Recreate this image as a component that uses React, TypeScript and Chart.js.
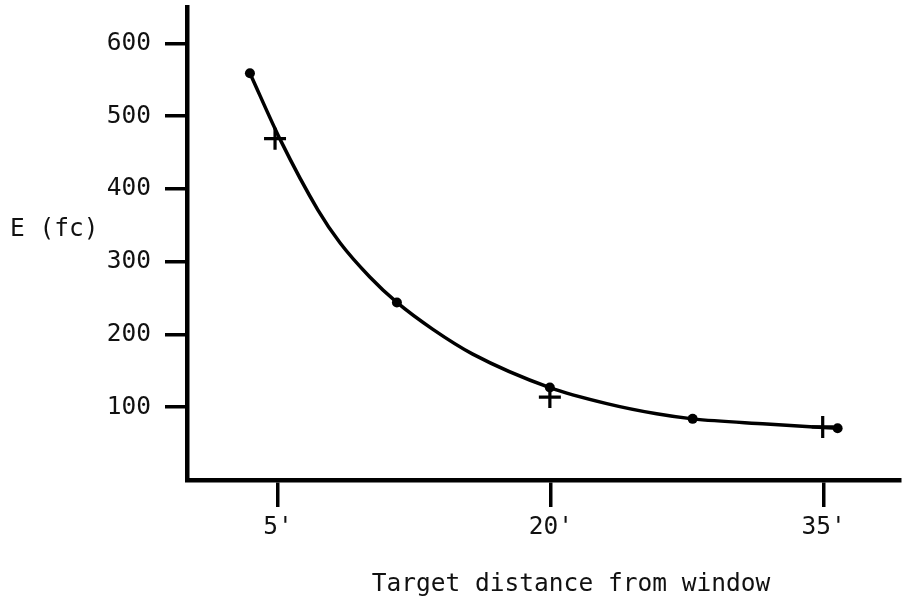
import React, { useEffect, useRef } from "react";
import { Chart, registerables } from "chart.js";

Chart.register(...registerables);

// Fitted curve (distance in ft, illuminance in fc)
const lineX = [3.46, 5.16, 7.2, 8.41, 10.05, 11.54, 13.52, 15.71, 19.95, 23.08, 25.82, 27.8, 31.87, 35.77];
const lineY = [559, 466, 371, 326, 279, 244, 207, 173, 127, 105, 91, 84, 77, 71];
// Dot measurements
const dotX = [3.46, 11.54, 19.95, 27.8, 35.77];
const dotY = [559, 244, 127, 84, 71];
// "+" measurements
const crossX = [4.84, 19.95, 34.95];
const crossY = [469, 114, 73];

const xTickValues = [5, 20, 35];
const xTickLabels = ["5'", "20'", "35'"];
const yTickValues = [100, 200, 300, 400, 500, 600];

const yTitle = "E (fc)";
const xTitle = "Target distance from window";

const FONT = "'DejaVu Sans Mono', monospace";

const titlesPlugin = {
  id: "titles",
  afterDraw(chart: any) {
    const { ctx, chartArea } = chart;
    ctx.save();
    ctx.fillStyle = "#111";
    ctx.font = `24.5px ${FONT}`;
    ctx.textBaseline = "middle";
    ctx.textAlign = "left";
    ctx.fillText(yTitle, chartArea.left - 177, chartArea.top + 223);
    ctx.textAlign = "center";
    ctx.fillText(xTitle, chartArea.left + 384, chartArea.bottom + 105);
    ctx.restore();
  },
};

export default function App() {
  const ref = useRef<HTMLCanvasElement | null>(null);

  useEffect(() => {
    if (!ref.current) return;
    const chart = new Chart(ref.current, {
      type: "scatter",
      data: {
        datasets: [
          {
            data: lineX.map((x, i) => ({ x, y: lineY[i] })),
            showLine: true,
            borderColor: "#000",
            borderWidth: 3.5,
            pointRadius: 0,
            cubicInterpolationMode: "monotone",
          },
          {
            data: dotX.map((x, i) => ({ x, y: dotY[i] })),
            showLine: false,
            pointBackgroundColor: "#000",
            pointBorderColor: "#000",
            pointRadius: 5,
            pointBorderWidth: 0,
          },
          {
            data: crossX.map((x, i) => ({ x, y: crossY[i] })),
            showLine: false,
            pointStyle: "cross",
            pointRadius: 11,
            borderColor: "#000",
            pointBorderColor: "#000",
            pointBorderWidth: 3.2,
          },
        ],
      },
      options: {
        responsive: false,
        animation: false,
        events: [],
        layout: { autoPadding: false, padding: { top: 7, right: 4, left: 0, bottom: 0 } },
        plugins: { legend: { display: false }, tooltip: { enabled: false } },
        scales: {
          x: {
            type: "linear",
            min: 0,
            max: 39.2,
            afterBuildTicks: (scale: any) => {
              scale.ticks = xTickValues.map((v) => ({ value: v }));
            },
            afterFit: (scale: any) => {
              scale.height = 132;
              scale.paddingLeft = 0;
              scale.paddingRight = 0;
            },
            grid: {
              display: true,
              drawOnChartArea: false,
              drawTicks: true,
              tickLength: 27,
              color: "#000",
              tickColor: "#000",
              lineWidth: 3.5,
              tickWidth: 3.5,
            },
            border: { display: true, color: "#000", width: 4.5 },
            ticks: {
              color: "#111",
              font: { family: FONT, size: 24.5 },
              padding: 6,
              maxRotation: 0,
              autoSkip: false,
              callback: (v: any) => {
                const i = xTickValues.indexOf(Number(v));
                return i >= 0 ? xTickLabels[i] : "";
              },
            },
          },
          y: {
            type: "linear",
            min: 0,
            max: 650,
            afterBuildTicks: (scale: any) => {
              scale.ticks = yTickValues.map((v) => ({ value: v }));
            },
            afterFit: (scale: any) => {
              scale.width = 187;
              scale.paddingTop = 0;
              scale.paddingBottom = 0;
            },
            grid: {
              display: true,
              drawOnChartArea: false,
              drawTicks: true,
              tickLength: 22,
              color: "#000",
              tickColor: "#000",
              lineWidth: 3.5,
              tickWidth: 3.5,
            },
            border: { display: true, color: "#000", width: 4.5 },
            ticks: {
              color: "#111",
              font: { family: FONT, size: 24.5 },
              padding: 14,
              autoSkip: false,
            },
          },
        },
      },
      plugins: [titlesPlugin],
    });
    return () => chart.destroy();
  }, []);

  return (
    <div style={{ position: "absolute", left: 0, top: 0, width: 904, height: 612, background: "#fff" }}>
      <canvas ref={ref} width={904} height={612} />
    </div>
  );
}
